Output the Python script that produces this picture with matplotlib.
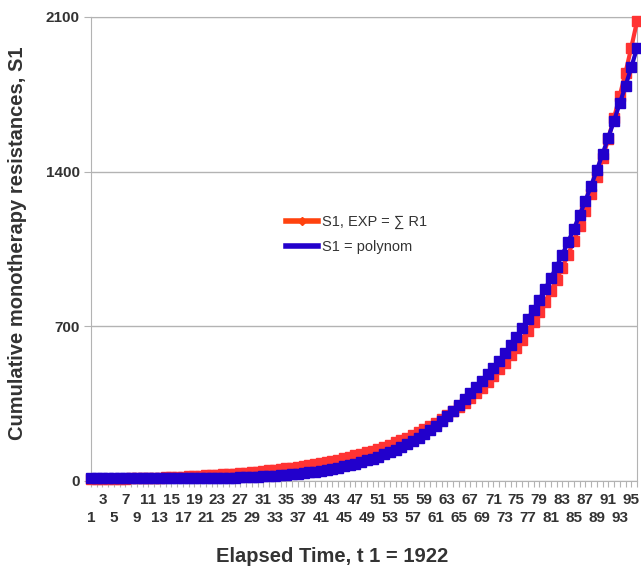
"""Cumulative monotherapy resistances S1: exponential sum vs. polynomial fit."""

import matplotlib

matplotlib.use("Agg")
import matplotlib.pyplot as plt
from matplotlib.lines import Line2D

# elapsed time index (t 1 = 1922)
elapsed = list(range(1, 97))

# S1, EXP = sum of R1
s1_exp = [
    7.7, 8.1, 8.6, 9.1, 9.7, 10.3, 10.9, 11.6, 12.3, 13.0,
    13.8, 14.6, 15.5, 16.5, 17.5, 18.5, 19.7, 20.9, 22.1, 23.5,
    24.9, 26.4, 28.0, 29.7, 31.5, 33.5, 35.5, 37.6, 39.9, 42.4,
    44.9, 47.7, 50.6, 53.6, 56.9, 60.4, 64.0, 67.9, 72.0, 76.4,
    81.1, 86.0, 91.2, 96.8, 102.6, 108.9, 115.5, 122.5, 130.0, 137.9,
    146.2, 155.1, 164.6, 174.6, 185.2, 196.4, 208.4, 221.0, 234.5, 248.7,
    263.8, 279.9, 296.9, 314.9, 334.0, 354.3, 375.9, 398.7, 423.0, 448.7,
    475.9, 504.9, 535.5, 568.1, 602.6, 639.2, 678.1, 719.3, 763.0, 809.4,
    858.6, 910.7, 966.1, 1024.8, 1087.1, 1153.2, 1223.3, 1297.6, 1376.5, 1460.1,
    1548.9, 1643.0, 1742.8, 1848.8, 1961.1, 2080.3,
]

# S1 = polynom
s1_poly = [
    14.0, 13.8, 13.6, 13.4, 13.2, 13.0, 12.8, 12.6, 12.5, 12.4,
    12.3, 12.2, 12.1, 12.1, 12.1, 12.1, 12.2, 12.3, 12.5, 12.8,
    13.1, 13.4, 13.8, 14.2, 14.7, 15.2, 16.0, 17.0, 18.0, 19.2,
    20.6, 22.2, 23.9, 25.8, 28.0, 30.4, 33.0, 36.0, 39.2, 42.8,
    46.7, 51.0, 55.7, 60.8, 66.3, 72.4, 78.9, 86.0, 93.6, 101.8,
    110.7, 120.2, 130.4, 141.3, 153.1, 165.7, 179.1, 193.4, 211.7, 230.9,
    251.1, 272.6, 295.0, 318.6, 343.7, 369.8, 396.2, 424.3, 452.7, 482.3,
    512.8, 544.9, 578.7, 614.1, 651.4, 690.8, 731.7, 775.3, 820.5, 868.0,
    917.6, 969.8, 1024.0, 1081.1, 1140.5, 1202.6, 1267.0, 1335.2, 1405.8, 1479.5,
    1553.8, 1630.6, 1709.3, 1788.0, 1872.0, 1959.0,
]

y_ticks = [0, 700, 1400, 2100]
x_labels = elapsed[::2]

RED = "#ff3333"
RED_LEGEND = "#ff420e"
BLUE = "#2200cc"
GRID = "#b3b3b3"
TEXT = "#333333"

W, H = 641, 570


def main() -> None:
    plt.rcParams["font.family"] = ["Liberation Sans", "DejaVu Sans"]

    fig = plt.figure(figsize=(W / 100, H / 100), dpi=100)
    left, right, top, bottom = 91, 637, 17, 481
    ax = fig.add_axes([left / W, 1 - bottom / H, (right - left) / W, (bottom - top) / H])

    ax.plot(elapsed, s1_exp, color=RED, lw=3, marker="s", ms=6.5, clip_on=False, zorder=3)
    ax.plot(elapsed, s1_poly, color=BLUE, lw=3, marker="s", ms=6.5, clip_on=False, zorder=4)

    ax.set_xlim(1, 96)
    ax.set_ylim(0, 2100)

    ax.set_yticks(y_ticks)
    ax.set_yticklabels([str(v) for v in y_ticks], fontsize=11, fontweight="bold", color=TEXT)
    ax.yaxis.grid(True, color=GRID, lw=1)
    ax.set_axisbelow(True)
    ax.tick_params(axis="y", length=5, color=GRID, pad=3)

    ax.set_xticks(elapsed)
    ax.set_xticklabels([])
    ax.tick_params(axis="x", length=4, color=GRID)

    for spine in ax.spines.values():
        spine.set_color(GRID)

    # category labels alternate between two rows
    axes_h = bottom - top
    for i in x_labels:
        row_y = 500 if ((i - 1) // 2) % 2 == 1 else 518
        ax.text(i, (bottom - row_y) / axes_h, str(i), transform=ax.get_xaxis_transform(),
                ha="center", va="center", fontsize=11, fontweight="bold", color=TEXT)

    fig.text(332 / W, 1 - 557 / H, "Elapsed Time, t 1 = 1922", ha="center", va="center",
             fontsize=14.5, fontweight="bold", color=TEXT)
    fig.text(17.5 / W, 1 - 243 / H, "Cumulative monotherapy resistances, S1", ha="center",
             va="center", rotation=90, fontsize=14.5, fontweight="bold", color=TEXT)

    handles = [
        Line2D([], [], color=RED_LEGEND, lw=4, marker="D", ms=4),
        Line2D([], [], color=BLUE, lw=4),
    ]
    ax.legend(handles, ["S1, EXP = ∑ R1", "S1 = polynom"], loc="center left",
              bbox_to_anchor=(286 / W, 1 - 234.5 / H), bbox_transform=fig.transFigure,
              frameon=False, borderpad=0, borderaxespad=0, handlelength=2.2,
              handletextpad=0.3, labelspacing=0.75, prop={"size": 10.5}, labelcolor=TEXT)

    fig.savefig("out.png", dpi=100)
    plt.close(fig)


if __name__ == "__main__":
    main()
